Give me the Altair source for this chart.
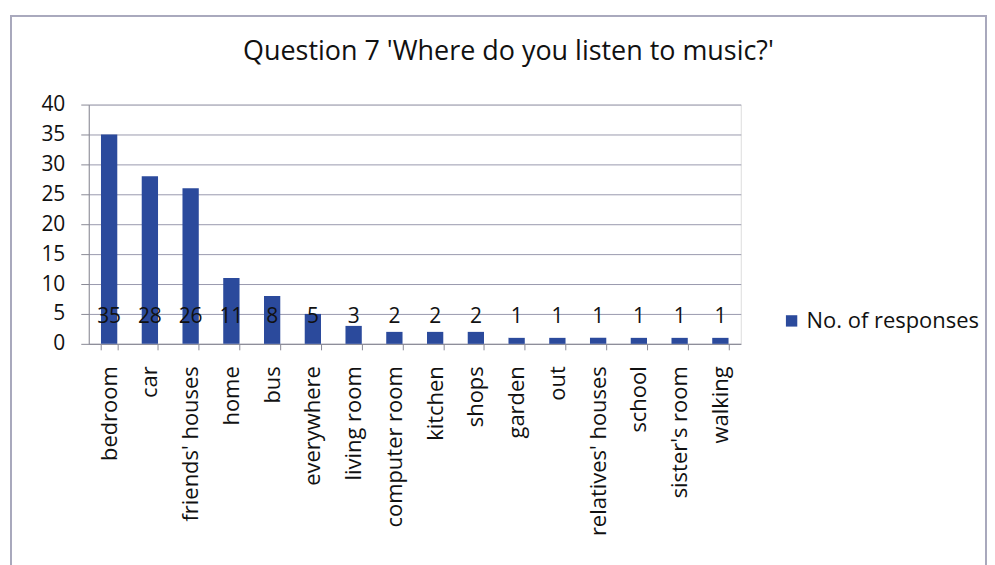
import altair as alt
import pandas as pd

places = ["bedroom", "car", "friends' houses", "home", "bus", "everywhere",
          "living room", "computer room", "kitchen", "shops", "garden", "out",
          "relatives' houses", "school", "sister's room", "walking"]
responses = [35, 28, 26, 11, 8, 5, 3, 2, 2, 2, 1, 1, 1, 1, 1, 1]
series_name = "No. of responses"
title_text = "Question 7 'Where do you listen to music?'"

df = pd.DataFrame({"place": places, "count": responses, "series": series_name})

FONT = "Open Sans"
BAR = "#2B4A9C"
TXT = "#111111"
AXC = "#8a8a96"

y_scale = alt.Scale(domain=[0, 40], nice=False)
y_axis = alt.Axis(tickCount=8, tickMinStep=5, labelOverlap=False,
                  labelFontSize=21, labelFont=FONT, labelColor=TXT,
                  gridColor="#9a9aae", tickColor=AXC, tickSize=8,
                  domainColor=AXC, labelPadding=16)

x = alt.X("place:N", sort=places, title=None,
          scale=alt.Scale(paddingInner=0.6, paddingOuter=0.3),
          axis=alt.Axis(labelAngle=270, labelAlign="right", labelBaseline="middle",
                        labelFontSize=22, labelFont=FONT, labelColor=TXT,
                        tickBand="extent", tickSize=6, tickColor=AXC,
                        domainColor=AXC, labelPadding=16, grid=False,
                        labelOverlap=False, labelLimit=300))

bars = alt.Chart(df).mark_bar(color=BAR).encode(
    x=x,
    y=alt.Y("count:Q", title=None, scale=y_scale, axis=y_axis),
    color=alt.Color("series:N", title=None,
                    scale=alt.Scale(domain=[series_name], range=[BAR]),
                    legend=alt.Legend(orient="none", legendX=694, legendY=206,
                                      symbolType="square", symbolSize=130,
                                      labelFontSize=22, labelFont=FONT,
                                      labelColor=TXT, labelLimit=300)),
)

labels = alt.Chart(df).mark_text(fontSize=21, font=FONT, color=TXT,
                                 baseline="middle").encode(
    x=alt.X("place:N", sort=places),
    y=alt.YDatum(4.5, scale=y_scale, axis=y_axis),
    text=alt.Text("count:Q"),
)

frame = alt.Chart(df).mark_rect(fill=None, stroke="#a9a9bd", strokeWidth=1.5).encode(
    x=alt.value(-78), x2=alt.value(900), y=alt.value(-89), y2=alt.value(470)
)

title = alt.Chart(pd.DataFrame({"t": [title_text]})).mark_text(
    fontSize=27, font=FONT, color=TXT, align="center", baseline="middle"
).encode(x=alt.value(421), y=alt.value(-53), text="t:N")

chart = (frame + bars + labels + title).properties(
    width=654, height=240,
    padding={"left": 2, "top": 6, "right": 0, "bottom": 0},
).configure_view(stroke=None).configure(background="white")

chart.save("out.html", embed_options={"renderer": "svg", "actions": False})
